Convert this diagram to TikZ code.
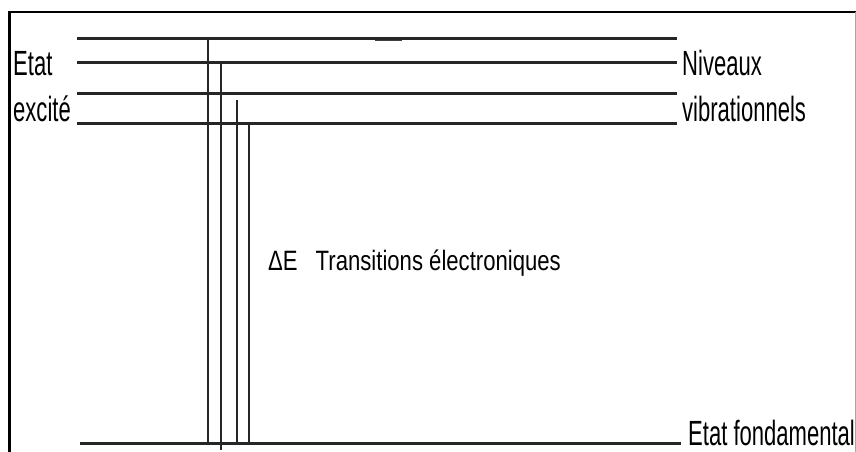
\documentclass[tikz,border=0pt]{standalone}
\usepackage{fontspec}
\setmainfont{Liberation Sans}
\newfontfamily\narrowfont{Liberation Sans}[FakeStretch=0.63]
\newfontfamily\deltafont{Liberation Sans}[FakeStretch=0.79]
\usetikzlibrary{positioning}

\begin{document}
\begin{tikzpicture}[
    x=1pt, y=-1pt,
    level/.style={line width=3pt, black!85},
    transition/.style={line width=1.9pt, black!85},
    frameline/.style={line width=2.4pt},
    lbl/.style={inner sep=0pt, anchor=base west, font=\narrowfont\fontsize{35}{38}\selectfont}
]
\useasboundingbox (0,0) rectangle (856,452);

% Frame
\draw[frameline] (9.5,452) -- (9.5,12) -- (856,12);
\draw[black!35, line width=1pt] (855,12) -- (855,452);

% Vibrational levels of the excited state
\foreach \name/\y in {a/39, b/63, c/93, d/123} {
  \coordinate (\name-l) at (77,\y);
  \coordinate (\name-r) at (677,\y);
  \draw[level] (\name-l) -- (\name-r);
}
\coordinate (s-l) at (375,40.5);
\coordinate (s-r) at (402,40.5);
\draw[black!75, line width=1.6pt] (s-l) -- (s-r);

% Ground state
\coordinate (g-l) at (80,443);
\coordinate (g-r) at (681,443);
\draw[level] (g-l) -- (g-r);

% Transitions
\foreach \i/\x/\ytop/\ybot in {1/208/39/445, 2/221/63/450, 3/237/100/444, 4/249/123/443} {
  \coordinate (t\i) at (\x,\ytop);
  \coordinate (b\i) at (\x,\ybot);
  \draw[transition] (t\i) -- (b\i);
}

% Labels
\node[lbl] (etat) at (13,75) {Etat};
\node[lbl] (excite) at (13,121) {excité};
\node[lbl] (niveaux) at (682,75) {Niveaux};
\node[lbl] (vibr) at (682,121) {vibrationnels};
\node[lbl, font=\deltafont\fontsize{28}{30}\selectfont] (trans) at (268,270) {ΔE\hspace{18pt}Transitions électroniques};
\node[lbl] (fond) at (688,445) {Etat fondamental};

\end{tikzpicture}
\end{document}
